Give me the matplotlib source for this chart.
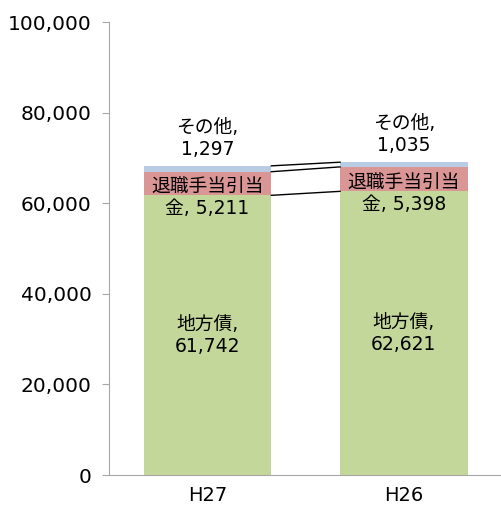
import matplotlib.pyplot as plt
import numpy as np

plt.rcParams['font.family'] = ['DejaVu Sans', 'Noto Sans CJK JP']

categories = ["H27", "H26"]
chihousai = [61742, 62621]
taishoku = [5211, 5398]
sonota = [1297, 1035]
y_ticks = [0, 20000, 40000, 60000, 80000, 100000]

GREEN = "#c4d79b"
PINK = "#da9694"
BLUE = "#b8cce4"
AXIS = "#a6a6a6"

fig = plt.figure(figsize=(5.02, 5.05), dpi=100)
ax = fig.add_axes([0.218, 0.0594, 0.782, 0.8970])

x = np.arange(len(categories))
width = 0.65
b1 = np.array(chihousai)
b2 = b1 + np.array(taishoku)
b3 = b2 + np.array(sonota)

ax.bar(x, chihousai, width, color=GREEN, zorder=2)
ax.bar(x, taishoku, width, bottom=b1, color=PINK, zorder=2)
ax.bar(x, sonota, width, bottom=b2, color=BLUE, zorder=2)

# series lines between the bars
for tops in (b1, b2, b3):
    ax.plot([x[0] + width / 2, x[1] - width / 2], [tops[0], tops[1]],
            color="black", lw=1.0, zorder=3)

fs = 13.5
ls = 1.2
for i in range(len(categories)):
    ax.annotate(f"地方債,\n{chihousai[i]:,}", (x[i], chihousai[i] / 2),
                ha="center", va="center", fontsize=fs, linespacing=ls)
    ax.annotate(f"退職手当引当\n金, {taishoku[i]:,}", (x[i], b1[i] + taishoku[i] / 2),
                xytext=(0, -10), textcoords="offset points",
                ha="center", va="center", fontsize=fs, linespacing=ls)
    ax.annotate(f"その他,\n{sonota[i]:,}", (x[i], b3[i]),
                xytext=(0, 5), textcoords="offset points",
                ha="center", va="bottom", fontsize=fs, linespacing=ls)

ax.set_xlim(-0.5, 1.5)
ax.set_ylim(0, 100000)
ax.set_yticks(y_ticks)
ax.set_yticklabels([f"{v:,}" for v in y_ticks])
ax.set_xticks(x)
ax.set_xticklabels(categories)
ax.tick_params(axis="y", length=5, color=AXIS, labelsize=14.5, pad=8)
ax.tick_params(axis="x", length=0, labelsize=14, pad=8)

for side in ("top", "right"):
    ax.spines[side].set_visible(False)
for side in ("left", "bottom"):
    ax.spines[side].set_color(AXIS)

fig.savefig("out.png", dpi=100)
